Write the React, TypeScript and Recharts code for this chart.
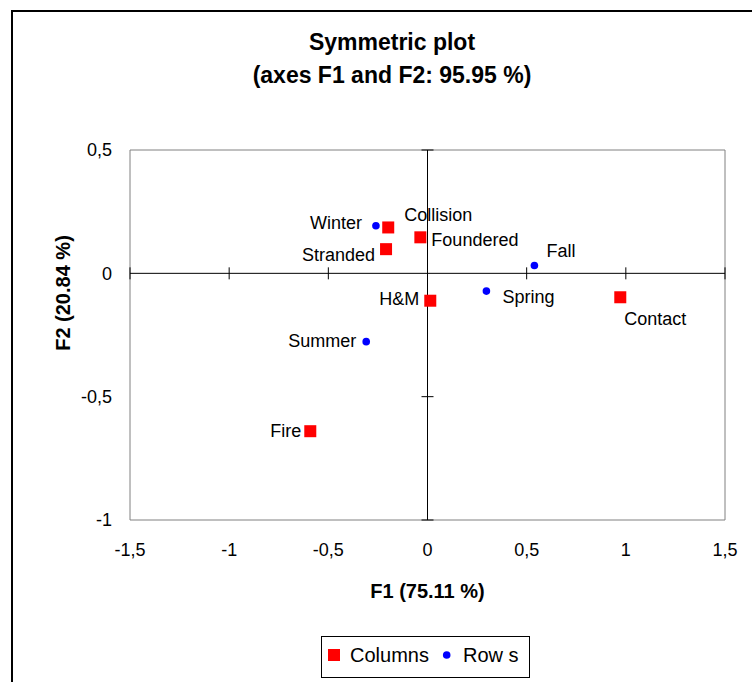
import React from "react"
import {
  ScatterChart,
  Scatter,
  XAxis,
  YAxis,
  ReferenceLine,
  ReferenceArea,
  ReferenceDot,
} from "recharts"

// Columns (accident types) — red squares
const COLUMN_NAMES = ["Collision", "Stranded", "Foundered", "H&M", "Contact", "Fire"]
const COLUMN_F1 = [-0.198, -0.209, -0.036, 0.014, 0.972, -0.591]
const COLUMN_F2 = [0.186, 0.098, 0.146, -0.111, -0.097, -0.64]

// Rows (seasons) — blue dots
const ROW_NAMES = ["Winter", "Fall", "Spring", "Summer"]
const ROW_F1 = [-0.26, 0.539, 0.297, -0.309]
const ROW_F2 = [0.193, 0.032, -0.072, -0.277]

const X_TICKS = [-1.5, -1, -0.5, 0, 0.5, 1, 1.5]
const Y_TICKS = [-1, -0.5, 0, 0.5]

const FONT = "'Liberation Sans', Arial, sans-serif"
const W = 752
const H = 682

// where each point's label sits relative to its marker (px)
const LABEL_POS: Record<string, { dx: number; dy: number; anchor: "start" | "end" }> = {
  Collision: { dx: 16, dy: -13, anchor: "start" },
  Stranded: { dx: -11, dy: 5, anchor: "end" },
  Foundered: { dx: 11, dy: 2, anchor: "start" },
  "H&M": { dx: -11, dy: -2, anchor: "end" },
  Contact: { dx: 4, dy: 21, anchor: "start" },
  Fire: { dx: -9, dy: -1, anchor: "end" },
  Winter: { dx: -14, dy: -3, anchor: "end" },
  Fall: { dx: 12, dy: -15, anchor: "start" },
  Spring: { dx: 16, dy: 6, anchor: "start" },
  Summer: { dx: -10, dy: -1, anchor: "end" },
}

const columnsData = COLUMN_NAMES.map((name, i) => ({ name, f1: COLUMN_F1[i], f2: COLUMN_F2[i] }))
const rowsData = ROW_NAMES.map((name, i) => ({ name, f1: ROW_F1[i], f2: ROW_F2[i] }))

const fmt = (v: number) => String(v).replace(".", ",")

function PointLabel({ cx, cy, name }: { cx: number; cy: number; name: string }) {
  const p = LABEL_POS[name] || { dx: 10, dy: 0, anchor: "start" }
  return (
    <text
      x={cx + p.dx}
      y={cy + p.dy + 6.4}
      textAnchor={p.anchor}
      fontFamily={FONT}
      fontSize={18}
      fill="#000"
    >
      {name}
    </text>
  )
}

const SquareMark = (props: any) => {
  const { cx, cy, payload } = props
  if (cx == null || cy == null) return null
  return (
    <g>
      <rect x={cx - 6} y={cy - 6} width={12} height={12} fill="#ff0000" />
      <PointLabel cx={cx} cy={cy} name={payload.name} />
    </g>
  )
}

const DotMark = (props: any) => {
  const { cx, cy, payload } = props
  if (cx == null || cy == null) return null
  return (
    <g>
      <circle cx={cx} cy={cy} r={3.8} fill="#0000ff" />
      <PointLabel cx={cx} cy={cy} name={payload.name} />
    </g>
  )
}

// small crossing ticks drawn on the zero axes
const VTick = (props: any) => (
  <line x1={props.cx} x2={props.cx} y1={props.cy - 6} y2={props.cy + 6} stroke="#000" strokeWidth={1} />
)
const HTick = (props: any) => (
  <line x1={props.cx - 6} x2={props.cx + 6} y1={props.cy} y2={props.cy} stroke="#000" strokeWidth={1} />
)

export default function App() {
  return (
    <div
      style={{
        position: "absolute",
        left: 0,
        top: 0,
        width: W,
        height: H,
        overflow: "hidden",
        background: "#fff",
      }}
    >
      <ScatterChart width={W} height={H} margin={{ top: 150, right: 27, bottom: 132, left: 70 }}>
        <XAxis
          type="number"
          dataKey="f1"
          domain={[-1.5, 1.5]}
          ticks={X_TICKS}
          tickFormatter={fmt}
          axisLine={false}
          tickLine={false}
          tickSize={0}
          tickMargin={23}
          height={30}
          tick={{ fontSize: 18, fill: "#000", fontFamily: FONT }}
          label={() => (
            <text x={427.5} y={598} textAnchor="middle" fontFamily={FONT} fontSize={20} fontWeight="bold" fill="#000">
              F1 (75.11 %)
            </text>
          )}
        />
        <YAxis
          type="number"
          dataKey="f2"
          domain={[-1, 0.5]}
          ticks={Y_TICKS}
          tickFormatter={fmt}
          axisLine={false}
          tickLine={false}
          tickSize={0}
          tickMargin={18}
          width={60}
          tick={{ fontSize: 18, fill: "#000", fontFamily: FONT }}
          label={() => (
            <text
              x={70}
              y={293}
              transform="rotate(-90 70 293)"
              textAnchor="middle"
              fontFamily={FONT}
              fontSize={20}
              fontWeight="bold"
              fill="#000"
            >
              F2 (20.84 %)
            </text>
          )}
        />
        <ReferenceArea x1={-1.5} x2={1.5} y1={-1} y2={0.5} fill="none" stroke="#808080" strokeWidth={1} />
        <ReferenceLine y={0} stroke="#000" strokeWidth={1} />
        <ReferenceLine x={0} stroke="#000" strokeWidth={1} />
        {X_TICKS.filter((t) => t !== 0).map((t) => (
          <ReferenceDot key={`xt${t}`} x={t} y={0} shape={VTick} />
        ))}
        {Y_TICKS.filter((t) => t !== 0).map((t) => (
          <ReferenceDot key={`yt${t}`} x={0} y={t} shape={HTick} />
        ))}
        <Scatter name="Columns" data={columnsData} shape={SquareMark} isAnimationActive={false} />
        <Scatter name="Rows" data={rowsData} shape={DotMark} isAnimationActive={false} />
      </ScatterChart>

      {/* title, frame and legend */}
      <svg
        width={W}
        height={H}
        style={{ position: "absolute", left: 0, top: 0, pointerEvents: "none" }}
      >
        <path d={`M12 ${H + 10} L12 11 L${W + 10} 11`} fill="none" stroke="#000" strokeWidth={2} />
        <text x={392} y={50} textAnchor="middle" fontFamily={FONT} fontSize={23} fontWeight="bold" fill="#000">
          Symmetric plot
        </text>
        <text x={392} y={83} textAnchor="middle" fontFamily={FONT} fontSize={23} fontWeight="bold" fill="#000">
          (axes F1 and F2: 95.95 %)
        </text>
        <rect x={321.5} y={636.5} width={208} height={41} fill="#fff" stroke="#000" strokeWidth={1} />
        <rect x={328} y={649} width={12} height={12} fill="#ff0000" />
        <text x={350} y={662} fontFamily={FONT} fontSize={20} fill="#000">
          Columns
        </text>
        <circle cx={446.7} cy={655} r={3.8} fill="#0000ff" />
        <text x={463} y={662} fontFamily={FONT} fontSize={20} fill="#000">
          Row s
        </text>
      </svg>
    </div>
  )
}
